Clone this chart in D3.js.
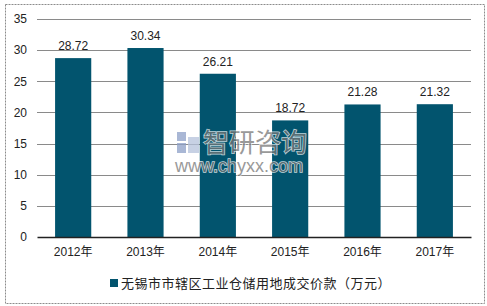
<!DOCTYPE html>
<html>
<head>
<meta charset="utf-8">
<script src="https://cdn.jsdelivr.net/npm/d3@7"></script>
<style>
  body { margin: 0; background: #fff; }
  text { font-family: "Liberation Sans", Arial, "Noto Sans CJK SC", sans-serif; }
</style>
</head>
<body>
<div id="chart"></div>
<script>
const years = ["2012年", "2013年", "2014年", "2015年", "2016年", "2017年"];
const values = [28.72, 30.34, 26.21, 18.72, 21.28, 21.32];
const yTicks = [0, 5, 10, 15, 20, 25, 30, 35];
const seriesName = "无锡市市辖区工业仓储用地成交价款（万元）";

const width = 487, height = 306;
const margin = { top: 19, right: 16, bottom: 69, left: 37 };

const svg = d3.select("#chart").append("svg")
  .attr("width", width)
  .attr("height", height);

// outer frame
svg.append("rect")
  .attr("x", 5.5).attr("y", 4.5)
  .attr("width", 479).attr("height", 299)
  .attr("fill", "none")
  .attr("stroke", "#8c8c8c")
  .attr("stroke-dasharray", "2,1");

const x = d3.scaleBand()
  .domain(years)
  .range([margin.left, width - margin.right])
  .paddingInner(0.5)
  .paddingOuter(0.25);

const y = d3.scaleLinear()
  .domain([0, 35])
  .range([height - margin.bottom, margin.top]);

// gridlines
svg.append("g")
  .selectAll("line")
  .data(yTicks.filter(d => d > 0))
  .enter().append("line")
  .attr("x1", margin.left)
  .attr("x2", width - margin.right)
  .attr("y1", d => Math.round(y(d)) + 0.5)
  .attr("y2", d => Math.round(y(d)) + 0.5)
  .attr("stroke", "#8a8a8a")
  .attr("stroke-width", 1);

// y axis labels
const yAxis = svg.append("g")
  .attr("transform", "translate(" + margin.left + ",0)")
  .call(d3.axisLeft(y).tickValues(yTicks).tickSize(0).tickPadding(10));
yAxis.select(".domain").remove();
yAxis.selectAll("text")
  .attr("font-size", "12px")
  .attr("fill", "#222");

// bars
svg.append("g")
  .selectAll("rect")
  .data(values)
  .enter().append("rect")
  .attr("x", (d, i) => x(years[i]))
  .attr("y", d => y(d))
  .attr("width", x.bandwidth())
  .attr("height", d => y(0) - y(d))
  .attr("fill", "#02546e");

// value labels
svg.append("g")
  .selectAll("text")
  .data(values)
  .enter().append("text")
  .attr("x", (d, i) => x(years[i]) + x.bandwidth() / 2)
  .attr("y", d => y(d) - 8)
  .attr("text-anchor", "middle")
  .attr("font-size", "12px")
  .attr("fill", "#222")
  .text(d => d.toFixed(2));

// watermark
const wm = svg.append("g").attr("opacity", 0.75);
wm.append("rect").attr("x", 177).attr("y", 132).attr("width", 9).attr("height", 9).attr("fill", "#8da0c8");
wm.append("rect").attr("x", 177).attr("y", 143).attr("width", 9).attr("height", 10).attr("fill", "#8da0c8");
wm.append("rect").attr("x", 188).attr("y", 137).attr("width", 11).attr("height", 16).attr("fill", "#b5c2dc");
wm.append("text")
  .attr("x", 203).attr("y", 152)
  .attr("font-size", "26px")
  .attr("fill", "#777")
  .attr("stroke", "#fff").attr("stroke-width", 1.5).attr("paint-order", "stroke")
  .text("智研咨询");
wm.append("text")
  .attr("x", 175).attr("y", 172)
  .attr("font-size", "18px")
  .attr("fill", "#777")
  .attr("stroke", "#fff").attr("stroke-width", 1.5).attr("paint-order", "stroke")
  .text("www.chyxx.com");

// x axis
const xAxis = svg.append("g")
  .attr("transform", "translate(0," + y(0) + ")")
  .call(d3.axisBottom(x).tickSize(0).tickPadding(10));
xAxis.select(".domain")
  .attr("stroke", "#222")
  .attr("stroke-width", 1.5);
xAxis.selectAll("text")
  .attr("font-size", "12px")
  .attr("fill", "#222");

// legend
const legend = svg.append("g").attr("transform", "translate(110,279)");
legend.append("rect")
  .attr("width", 8).attr("height", 8)
  .attr("fill", "#02546e");
legend.append("text")
  .attr("x", 11).attr("y", 4)
  .attr("dy", "0.35em")
  .attr("font-size", "13px")
  .attr("letter-spacing", "0.5px")
  .attr("fill", "#222")
  .text(seriesName);
</script>
</body>
</html>
